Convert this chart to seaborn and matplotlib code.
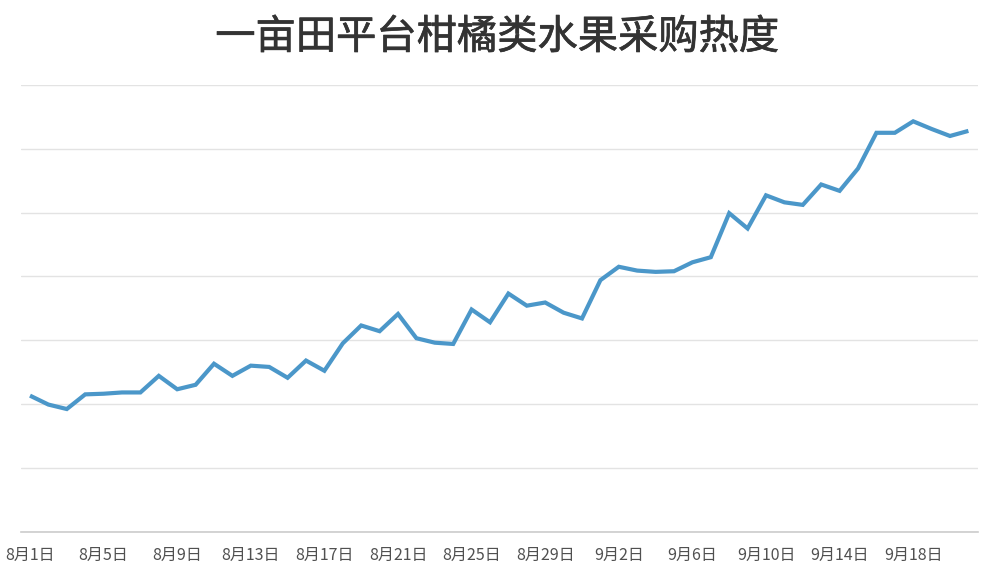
import matplotlib
matplotlib.use("Agg")
import matplotlib.pyplot as plt
import matplotlib.patheffects as pe
import seaborn as sns
import pandas as pd
import numpy as np
from matplotlib.ticker import FixedLocator

# Daily purchase-heat index, 8月1日 – 9月21日
dates = [f"8月{d}日" for d in range(1, 32)] + [f"9月{d}日" for d in range(1, 22)]
heat = [213, 199, 192, 215, 216, 218, 218, 244, 223, 230,
        263, 244, 260, 258, 241, 268, 252, 295, 323, 314,
        341, 303, 296, 294, 348, 328, 373, 354, 359, 343,
        334, 394, 415, 409, 407, 408, 422, 430, 499, 475,
        527, 516, 512, 544, 534, 569, 625, 625, 643, 631,
        620, 628]
title = "一亩田平台柑橘类水果采购热度"

sns.set_theme(style="white")
plt.rcParams["font.family"] = ["Noto Sans CJK SC", "DejaVu Sans"]

df = pd.DataFrame({"idx": np.arange(len(dates)), "date": dates, "heat": heat})

fig = plt.figure(figsize=(10, 5.74), dpi=100)
ax = fig.add_axes([0.0208, 0.074, 0.9568, 0.778])

ax.yaxis.grid(True, color="#e3e3e3", linewidth=1.0)
ax.set_axisbelow(True)

sns.lineplot(data=df, x="idx", y="heat", ax=ax, color="#4b97c9",
             linewidth=3.0, solid_joinstyle="miter", solid_capstyle="butt")

ax.set_xlim(-0.5, len(dates) - 0.5)
ax.set_ylim(0, 700)
ax.set_yticks(np.arange(0, 701, 100))
ax.set_yticklabels([])
ax.tick_params(axis="y", length=0)

# labels at every 4th day, tick marks at category boundaries
label_pos = df["idx"][::4].tolist()
ax.set_xticks(label_pos)
ax.set_xticklabels(df["date"][::4].tolist(), fontsize=11.5, color="#505050")
ax.tick_params(axis="x", which="major", length=0, pad=11)
ax.xaxis.set_minor_locator(FixedLocator(np.arange(-0.5, len(dates), 4)))
ax.tick_params(axis="x", which="minor", length=5, width=1, color="#cccccc",
               direction="out")

ax.set_xlabel("")
ax.set_ylabel("")
for s in ["left", "right", "top"]:
    ax.spines[s].set_visible(False)
ax.spines["bottom"].set_color("#cccccc")
ax.spines["bottom"].set_linewidth(1.2)

fig.text(0.497, 0.935, title, ha="center", va="center", fontsize=29,
         color="#333333", fontweight="normal",
         path_effects=[pe.withStroke(linewidth=0.5, foreground="#333333")])

fig.savefig("out.png", dpi=100, facecolor="white")
